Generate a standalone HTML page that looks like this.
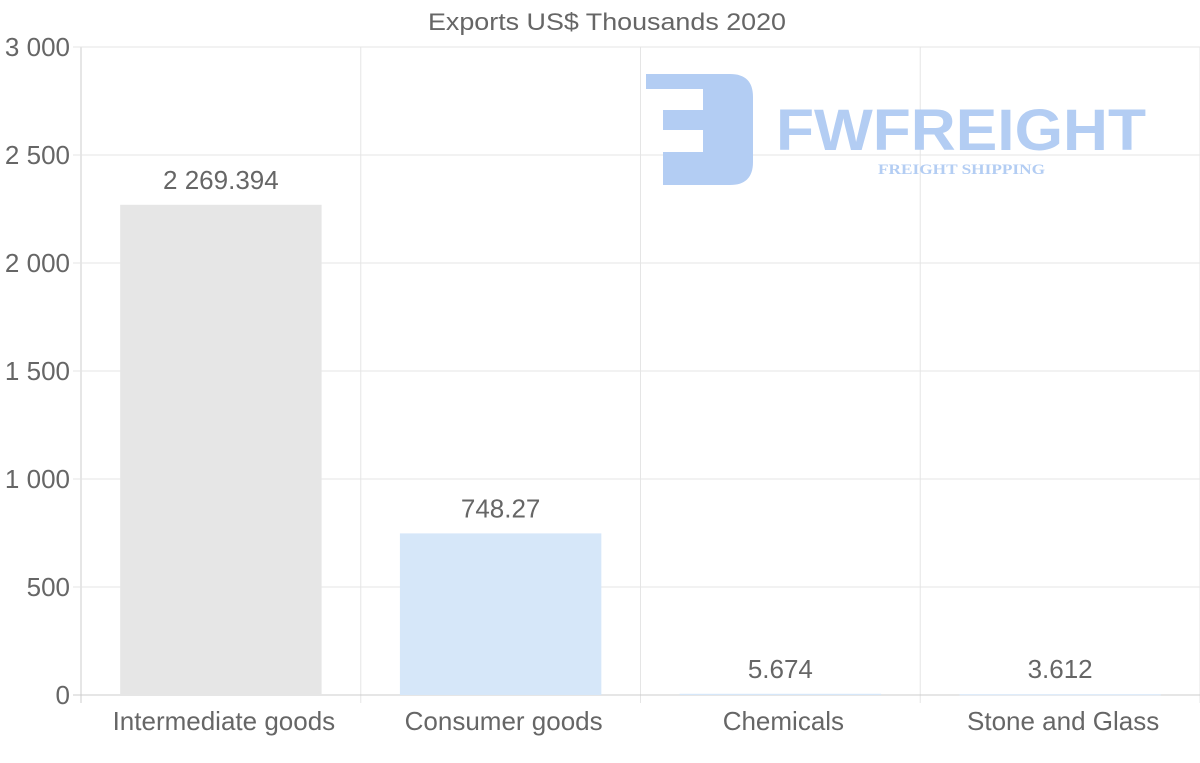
<!DOCTYPE html>
<html><head><meta charset="utf-8"><style>
html,body{margin:0;padding:0;background:#fff;}
svg{display:block;font-family:"Liberation Sans",sans-serif;}
</style></head><body>
<svg id="chart" width="1200" height="763">
<g id="logo">
 <path d="M646 74 H730 Q753 74 753 97 V162 Q753 185 730 185 H663 V152 H703 V130 H663 V110 H703 V89 H646 Z" fill="#b3cdf3"/>
 <text x="776" y="150" font-size="58" font-weight="bold" fill="#b3cdf3" textLength="370" lengthAdjust="spacingAndGlyphs">FWFREIGHT</text>
 <text x="878" y="174" font-size="15" font-weight="bold" fill="#b3cdf3" font-family="Liberation Serif,serif" textLength="167" lengthAdjust="spacingAndGlyphs">FREIGHT SHIPPING</text>
</g>
<text x="607" y="30" font-size="24" fill="#666" text-anchor="middle" textLength="358" lengthAdjust="spacingAndGlyphs">Exports US$ Thousands 2020</text>
</svg>
<script>
const categories=["Intermediate goods","Consumer goods","Chemicals","Stone and Glass"];
const values=[2269.394,748.27,5.674,3.612];
const valueLabels=["2 269.394","748.27","5.674","3.612"];
const yTicks=[0,500,1000,1500,2000,2500,3000];
const yTickLabels=["0","500","1 000","1 500","2 000","2 500","3 000"];
const barColors=["#e6e6e6","#d6e7f9","#d6e7f9","#d6e7f9"];
const svg=document.getElementById('chart');
const NS='http://www.w3.org/2000/svg';
const L=81,R=1200,T=47,B=695,yMax=3000;
const y=v=>B-(v/yMax)*(B-T);
const bw=(R-L)/categories.length;
const x=i=>L+i*bw;
function mk(tag,a){const e=document.createElementNS(NS,tag);for(const k in a)e.setAttribute(k,a[k]);svg.insertBefore(e,svg.firstChild);return e;}
function add(tag,a){const e=document.createElementNS(NS,tag);for(const k in a)e.setAttribute(k,a[k]);svg.appendChild(e);return e;}
yTicks.forEach((t,i)=>{
 const g=mk('line',{x1:73,x2:R,y1:y(t),y2:y(t),stroke:i==0?'#ccc':'#e5e5e5','stroke-width':1});
 
 
 const tx=add('text',{x:70,y:y(t)+9,'font-size':26,fill:'#666','text-anchor':'end'});
 tx.textContent=yTickLabels[i];
 
 
});
for(let i=0;i<=categories.length;i++){
 const g=mk('line',{x1:x(i),x2:x(i),y1:T,y2:B+8,stroke:i==0?'#ccc':'#e5e5e5','stroke-width':1});
 
 
}
categories.forEach((c,i)=>{
 const w=bw*0.72,bx=x(i)+(bw-w)/2,top=y(values[i]);
 const r=add('rect',{x:bx,y:top,width:w,height:Math.max(B-top,1),fill:barColors[i]});
 
 
 const v=add('text',{x:x(i)+bw/2,y:top-16,'font-size':26,fill:'#666','text-anchor':'middle'});
 v.textContent=valueLabels[i];
 
 
 const l=add('text',{x:x(i)+bw/2+3,y:730,'font-size':26,fill:'#666','text-anchor':'middle'});
 l.textContent=c;
 
 
});
</script>
</body></html>
